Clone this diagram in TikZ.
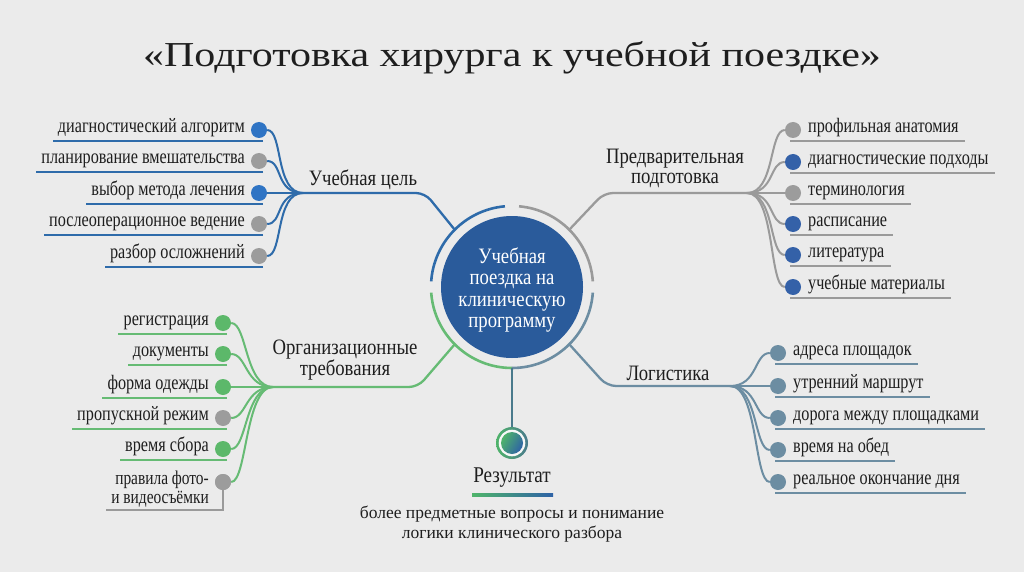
\documentclass[tikz,border=0pt]{standalone}
\usepackage{fontspec}
\setmainfont{Liberation Serif}[FakeStretch=0.85]
\newfontfamily\titlefont{Liberation Serif}[FakeStretch=1.2]
\newfontfamily\leaffont{Liberation Serif}[FakeStretch=0.79]
\newfontfamily\descfont{Liberation Serif}
\usetikzlibrary{calc}
\definecolor{bg}{HTML}{EBEBEB}
\definecolor{ink}{HTML}{1E1E1E}
\definecolor{lblue}{HTML}{2E6BAA}
\definecolor{dblue}{HTML}{2F74C4}
\definecolor{nblue}{HTML}{3461A8}
\definecolor{lgray}{HTML}{9A9A9A}
\definecolor{dgray}{HTML}{9C9C9C}
\definecolor{lgreen}{HTML}{66BB74}
\definecolor{dgreen}{HTML}{5CB86A}
\definecolor{slate}{HTML}{6C8DA2}
\definecolor{cfill}{HTML}{2A5B9B}
\definecolor{teal}{HTML}{4A7A8C}
\definecolor{rgreen}{HTML}{4FB46A}
\definecolor{rblue}{HTML}{2E62A6}
\tikzset{
  leaf/.style={font=\leaffont\fontsize{20.5}{22}\selectfont, text=ink, inner sep=0pt},
  branch/.style={font=\fontsize{22}{20}\selectfont, text=ink, inner sep=0pt, align=center},
  dotn/.style={circle, minimum size=16pt, inner sep=0pt, draw=none},
  leafconn/.style={line width=2pt},
  uline/.style={line width=2.4pt},
  mainline/.style={line width=2.3pt, rounded corners=9pt},
  ringarc/.style={line width=2.6pt}
}
\newcommand\leafL[7]{%
  \node[dotn,fill=#4] (#1) at (#2,#3) {};
  \draw[leafconn,#5] (#6) .. controls +(-28,0) and +(24,0) .. (#1);
  \node[leaf,anchor=mid east] (#1t) at (#2-14,#3) {#7};
  \coordinate (#1u) at (#2+4,#3+11);
  \draw[uline,#5] (#1u) -- (#1u -| #1t.west) -- ++(-5,0);
}
\newcommand\leafR[7]{%
  \node[dotn,fill=#4] (#1) at (#2,#3) {};
  \draw[leafconn,#5] (#6) .. controls +(28,0) and +(-24,0) .. (#1);
  \node[leaf,anchor=mid west] (#1t) at (#2+15,#3) {#7};
  \coordinate (#1u) at (#2-3,#3+11);
  \draw[uline,#5] (#1u) -- (#1u -| #1t.east) -- ++(6,0);
}
\begin{document}
\begin{tikzpicture}[x=1pt,y=-1pt]
\fill[bg] (0,0) rectangle (1024,572);
\useasboundingbox (0,0) rectangle (1024,572);

% title
\node[font=\titlefont\fontsize{35}{40}\selectfont, text=ink, anchor=base, inner sep=0pt] (title) at (512,67) {«Подготовка хирурга к учебной поездке»};

% centre
\node[circle, fill=cfill, minimum size=142pt, inner sep=0pt] (hubc) at (512,287) {};
\node[font=\fontsize{22}{21.5}\selectfont, text=white, align=center, inner sep=0pt] (ctext) at (512,290) {Учебная\\поездка на\\клиническую\\программу};

\begin{scope}[shift={(512,287)}, y=1pt]
  \draw[ringarc, lblue] (95:81) arc[start angle=95, end angle=176, radius=81];
  \draw[ringarc, lgray] (4:81) arc[start angle=4, end angle=85, radius=81];
  \draw[ringarc, lgreen] (184:81) arc[start angle=184, end angle=270, radius=81];
  \draw[ringarc, slate] (270:81) arc[start angle=270, end angle=356, radius=81];
  \coordinate (rTL) at (135:81);
  \coordinate (rTR) at (45:81);
  \coordinate (rBL) at (225:81);
  \coordinate (rBR) at (315:81);
  \coordinate (rB) at (270:81);
\end{scope}

% hubs
\coordinate (hTL) at (303,193);
\coordinate (hTR) at (747,193);
\coordinate (hBL) at (273,387);
\coordinate (hBR) at (730,386);

\draw[mainline, lblue] (rTL) -- (425,193) -- (hTL);
\draw[mainline, lgray] (rTR) -- (604,193) -- (hTR);
\draw[mainline, lgreen] (rBL) -- (418,387) -- (hBL);
\draw[mainline, slate] (rBR) -- (607,386) -- (hBR);

% branch labels
\node[branch] (bTL) at (363,180) {Учебная цель};
\node[branch] (bTR) at (675,168) {Предварительная\\подготовка};
\node[branch] (bBL) at (345,360) {Организационные\\требования};
\node[branch] (bBR) at (668,373) {Логистика};

% top-left leaves
\leafL{tl1}{259}{130}{dblue}{lblue}{hTL}{диагностический алгоритм}
\leafL{tl2}{259}{161}{dgray}{lblue}{hTL}{планирование вмешательства}
\leafL{tl3}{259}{193}{dblue}{lblue}{hTL}{выбор метода лечения}
\leafL{tl4}{259}{224}{dgray}{lblue}{hTL}{послеоперационное ведение}
\leafL{tl5}{259}{256}{dgray}{lblue}{hTL}{разбор осложнений}

% top-right leaves
\leafR{tr1}{793}{130}{dgray}{lgray}{hTR}{профильная анатомия}
\leafR{tr2}{793}{162}{nblue}{lgray}{hTR}{диагностические подходы}
\leafR{tr3}{793}{193}{dgray}{lgray}{hTR}{терминология}
\leafR{tr4}{793}{224}{nblue}{lgray}{hTR}{расписание}
\leafR{tr5}{793}{255}{nblue}{lgray}{hTR}{литература}
\leafR{tr6}{793}{287}{nblue}{lgray}{hTR}{учебные материалы}

% bottom-left leaves
\leafL{bl1}{223}{323}{dgreen}{lgreen}{hBL}{регистрация}
\leafL{bl2}{223}{354}{dgreen}{lgreen}{hBL}{документы}
\leafL{bl3}{223}{387}{dgreen}{lgreen}{hBL}{форма одежды}
\leafL{bl4}{223}{418}{dgray}{lgreen}{hBL}{пропускной режим}
\leafL{bl5}{223}{449}{dgreen}{lgreen}{hBL}{время сбора}
\node[dotn,fill=dgray] (bl6) at (223,482) {};
\draw[leafconn,lgreen] (hBL) .. controls +(-28,0) and +(24,0) .. (bl6);
\node[leaf,align=right,anchor=east,font=\leaffont\fontsize{19.5}{18.5}\selectfont] (bl6t) at (209,489) {правила фото-\\и видеосъёмки};
\coordinate (bl6u) at (223,510);
\draw[uline,lgray] (bl6.center) -- (bl6u) -- (bl6u -| bl6t.west) -- ++(-5,0);
\node[dotn,fill=dgray] at (bl6) {};

% bottom-right leaves
\leafR{br1}{778}{353}{slate}{slate}{hBR}{адреса площадок}
\leafR{br2}{778}{386}{slate}{slate}{hBR}{утренний маршрут}
\leafR{br3}{778}{418}{slate}{slate}{hBR}{дорога между площадками}
\leafR{br4}{778}{450}{slate}{slate}{hBR}{время на обед}
\leafR{br5}{778}{482}{slate}{slate}{hBR}{реальное окончание дня}

% result
\draw[line width=2.4pt, teal] (rB) -- (512,428);
\begin{scope}[shift={(512,443)}, y=1pt]
  \shade[left color=rgreen, right color=teal] (0,0) circle[radius=16];
  \fill[white!60!bg] (0,0) circle[radius=13.3];
  \shade[left color=rgreen, right color=rblue, shading angle=60] (0,0) circle[radius=11];
\end{scope}
\node[font=\fontsize{22.5}{24}\selectfont, text=ink, inner sep=0pt] (res) at (512,478) {Результат};
\shade[left color=rgreen, right color=rblue] (472,493.5) rectangle (553,496.5);
\node[font=\descfont\fontsize{17.5}{20}\selectfont, text=ink, align=center, inner sep=0pt] (desc) at (512,524) {более предметные вопросы и понимание\\логики клинического разбора};
\end{tikzpicture}
\end{document}
